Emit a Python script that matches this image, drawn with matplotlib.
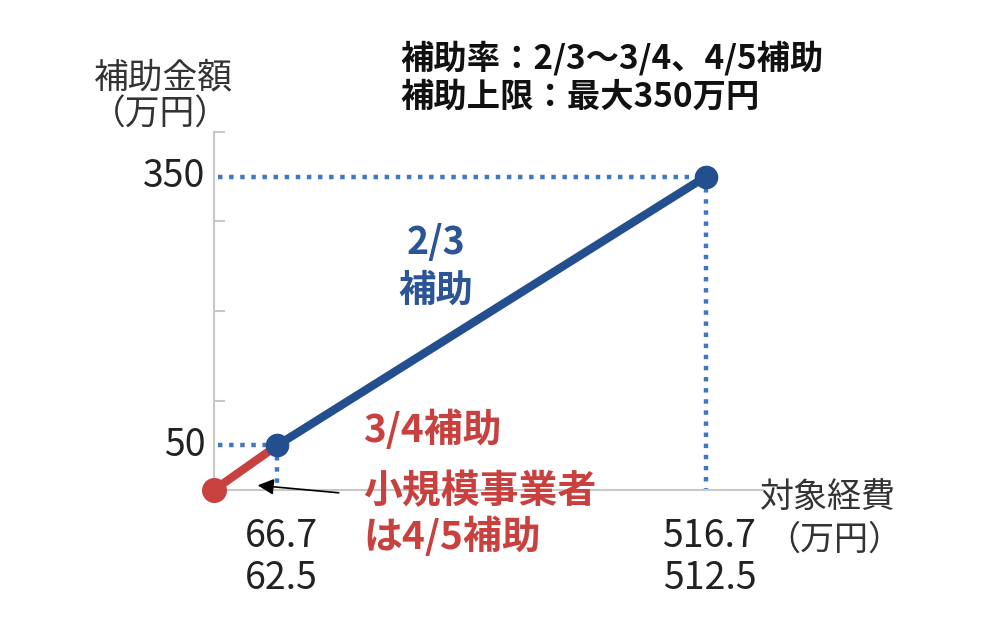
import matplotlib
matplotlib.use("Agg")
import matplotlib.pyplot as plt

plt.rcParams['font.family'] = ['Noto Sans CJK JP', 'DejaVu Sans']

# data
red_x = [0, 66.7]
red_y = [0, 50]
blue_x = [66.7, 516.7]
blue_y = [50, 350]
x_labels_top = ["66.7", "516.7"]
x_labels_bot = ["62.5", "512.5"]
y_marks = [50, 350]
y_ticks = [100, 200, 300, 400]

RED = "#c8413f"
BLUE = "#234f8f"
DOT = "#3d78c3"
GRAY = "#c8c8c8"
TXT = "#222222"

fig = plt.figure(figsize=(10, 6.22), dpi=100)
ax = fig.add_axes([0.214, 0.2122, 0.549, 0.5756])
ax.set_xlim(0, 577)
ax.set_ylim(0, 400)
for s in ["top", "right"]:
    ax.spines[s].set_visible(False)
ax.spines["left"].set_color(GRAY)
ax.spines["bottom"].set_color(GRAY)
ax.spines["left"].set_linewidth(1.5)
ax.spines["bottom"].set_linewidth(1.5)
ax.set_xticks([])
ax.set_yticks(y_ticks)
ax.set_yticklabels([])
ax.tick_params(axis="y", direction="in", length=8, width=1.5, color=GRAY)

# dotted guide lines
for xv, yv in zip(blue_x, blue_y):
    ax.plot([4, xv], [yv, yv], linestyle=(0, (1, 1.5)), color=DOT, lw=3.2, zorder=2)
    ax.plot([xv, xv], [yv, 0], linestyle=(0, (1, 1.5)), color=DOT, lw=3.2, zorder=2)

# main lines
ax.plot(red_x, red_y, color=RED, lw=6, solid_capstyle="round", zorder=3)
ax.plot(blue_x, blue_y, color=BLUE, lw=6, solid_capstyle="round", zorder=3)
ax.plot([red_x[0]], [red_y[0]], "o", color=RED, ms=17, zorder=5, clip_on=False)
ax.plot(blue_x, blue_y, "o", color=BLUE, ms=16, zorder=5, clip_on=False)

# y labels
for yv in y_marks:
    ax.text(-9, yv, str(yv), ha="right", va="center", fontsize=27, color=TXT)

# x labels
for xv, t1, t2 in zip(blue_x, x_labels_top, x_labels_bot):
    ax.text(xv + 4, -52, t1, ha="center", va="center", fontsize=27, color=TXT)
    ax.text(xv + 4, -99, t2, ha="center", va="center", fontsize=27, color=TXT)

# axis titles
fig.text(0.163, 1 - 78 / 622, "補助金額", ha="center", va="center", fontsize=25, color="#333333")
fig.text(0.160, 1 - 115 / 622, "（万円）", ha="center", va="center", fontsize=25, color="#333333")
fig.text(0.760, 1 - 497 / 622, "対象経費", ha="left", va="center", fontsize=24.5, color="#333333")
fig.text(0.766, 1 - 540 / 622, "（万円）", ha="left", va="center", fontsize=24.5, color="#333333")

# annotations
ax.text(233, 276, "2/3", ha="center", va="center", fontsize=27, color="#2b5597", fontweight="bold")
ax.text(233, 223, "補助", ha="center", va="center", fontsize=27, color="#2b5597", fontweight="bold")
fig.text(0.363, 1 - 430 / 622, "3/4補助", ha="left", va="center", fontsize=28, color=RED, fontweight="bold")
fig.text(0.363, 1 - 492 / 622, "小規模事業者", ha="left", va="center", fontsize=28, color=RED, fontweight="bold")
fig.text(0.363, 1 - 537 / 622, "は4/5補助", ha="left", va="center", fontsize=28, color=RED, fontweight="bold")

fig.text(0.400, 1 - 58 / 622, "補助率：2/3～3/4、4/5補助", ha="left", va="center", fontsize=24, color="#111111", fontweight="bold")
fig.text(0.400, 1 - 97 / 622, "補助上限：最大350万円", ha="left", va="center", fontsize=24, color="#111111", fontweight="bold")

ax.annotate("", xy=(43, 5.5), xytext=(134, -3.4),
            arrowprops=dict(arrowstyle="-|>", color="black", lw=1.2, mutation_scale=24),
            annotation_clip=False, zorder=6)

fig.savefig("out.png", dpi=100, facecolor="white")
